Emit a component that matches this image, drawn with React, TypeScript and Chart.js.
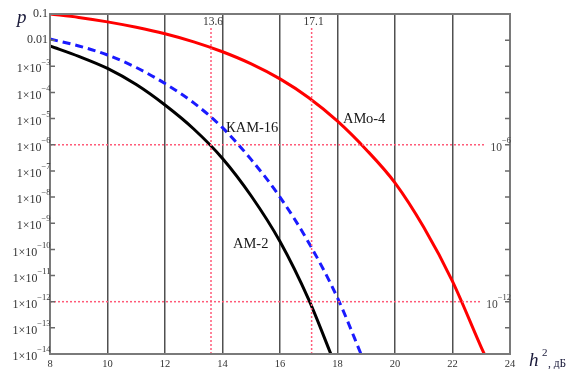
import React, { useEffect, useRef } from "react";
import { Chart, registerables } from "chart.js";

Chart.register(...registerables);

// АМо-4 (red)
const amo4H = [8, 9, 10, 11, 12, 13, 14, 15, 16, 17, 18, 19, 20, 21, 22, 23, 23.2];
const amo4P = [0.1, 0.074, 0.05, 0.031, 0.0175, 0.0086, 0.0036, 0.00124, 3.3e-4, 6.3e-5, 8e-6, 6.5e-7, 3.5e-8, 7e-10, 6e-12, 1.8e-14, 6e-15];
// КАМ-16 (blue dashed)
const kam16H = [8, 9, 10, 11, 12, 13, 14, 15, 16, 17, 18, 18.9];
const kam16P = [1.1e-2, 6e-3, 2.7e-3, 9e-4, 2.2e-4, 4e-5, 4.5e-6, 2.7e-7, 1e-8, 1.8e-10, 1.4e-12, 6e-15];
// АМ-2 (black)
const am2H = [8, 9, 10, 11, 12, 13, 14, 15, 16, 17, 17.85];
const am2P = [6e-3, 2.4e-3, 8.3e-4, 2.0e-4, 3.3e-5, 4.0e-6, 3e-7, 1.1e-8, 2e-10, 1.2e-12, 6e-15];

// reference (dotted) lines
const refH = [13.6, 17.1];
const refHLabels = ["13.6", "17.1"];
const refHTop = 0.03;
const refP = [1e-6, 1e-12];
const refPExp = ["−6", "−12"];
const refPEnd = [23.1, 23.0];

// axes
const xMin = 8;
const xMax = 24;
const xStep = 2;
const yMin = 1e-14;
const yMax = 0.1;
const yExps = [-1, -2, -3, -4, -5, -6, -7, -8, -9, -10, -11, -12, -13, -14];

const SERIF = "'Liberation Serif', 'Times New Roman', serif";

export default function App() {
  const ref = useRef<HTMLCanvasElement>(null);

  useEffect(() => {
    document.body.style.margin = "0";
    const canvas = ref.current!;
    const pts = (xs: number[], ys: number[]) => xs.map((x, i) => ({ x, y: ys[i] }));
    const dotted = {
      borderColor: "#ff5a78",
      borderWidth: 1.5,
      borderDash: [2, 2],
      pointRadius: 0,
      fill: false,
      tension: 0,
    };

    const datasets: any[] = [
      ...refH.map((h) => ({ ...dotted, data: [{ x: h, y: yMin }, { x: h, y: refHTop }] })),
      ...refP.map((p, i) => ({ ...dotted, data: [{ x: xMin, y: p }, { x: refPEnd[i], y: p }] })),
      {
        data: pts(am2H, am2P),
        borderColor: "#000000",
        borderWidth: 3,
        pointRadius: 0,
        cubicInterpolationMode: "monotone",
      },
      {
        data: pts(kam16H, kam16P),
        borderColor: "#1a1aff",
        borderWidth: 3,
        borderDash: [8, 5],
        pointRadius: 0,
        cubicInterpolationMode: "monotone",
      },
      {
        data: pts(amo4H, amo4P),
        borderColor: "#ff0000",
        borderWidth: 3,
        pointRadius: 0,
        cubicInterpolationMode: "monotone",
      },
    ];

    const drawPow = (
      ctx: CanvasRenderingContext2D,
      xRight: number,
      y: number,
      base: string,
      exp: string,
      baseSize: number,
      supSize: number,
      color: string
    ) => {
      ctx.fillStyle = color;
      ctx.textBaseline = "middle";
      ctx.textAlign = "left";
      ctx.font = `${supSize}px ${SERIF}`;
      const sw = ctx.measureText(exp).width;
      ctx.font = `${baseSize}px ${SERIF}`;
      const bw = ctx.measureText(base).width;
      ctx.fillText(base, xRight - sw - bw, y + 3);
      ctx.font = `${supSize}px ${SERIF}`;
      ctx.fillText(exp, xRight - sw, y - 4);
    };

    const overlay = {
      id: "overlay",
      afterDraw(chart: any) {
        const ctx: CanvasRenderingContext2D = chart.ctx;
        const { left, right, top, bottom } = chart.chartArea;
        const xs = chart.scales.x;
        const ys = chart.scales.y;
        ctx.save();
        // frame
        ctx.strokeStyle = "#7a7a7a";
        ctx.lineWidth = 2;
        ctx.strokeRect(left, top, right - left, bottom - top);
        // y ticks + labels
        ctx.lineWidth = 1.5;
        yExps.forEach((e) => {
          const v = Math.pow(10, e);
          const py = ys.getPixelForValue(v);
          ctx.strokeStyle = "#6a6a6a";
          if (e !== -1 && e !== -14) {
            ctx.beginPath();
            ctx.moveTo(left, py);
            ctx.lineTo(left + 5, py);
            ctx.moveTo(right, py);
            ctx.lineTo(right - 5, py);
            ctx.stroke();
          }
          if (e === -1 || e === -2) {
            ctx.fillStyle = "#333";
            ctx.font = `12px ${SERIF}`;
            ctx.textAlign = "right";
            ctx.textBaseline = "middle";
            ctx.fillText(e === -1 ? "0.1" : "0.01", left - 2, py);
          } else {
            drawPow(ctx, left + 0.5, py, "1×10", "−" + String(-e), 12, 8.5, "#333");
          }
        });
        // top labels of vertical dotted lines
        ctx.fillStyle = "#333";
        ctx.font = `11.5px ${SERIF}`;
        ctx.textAlign = "center";
        ctx.textBaseline = "middle";
        refH.forEach((h, i) => {
          ctx.fillText(refHLabels[i], xs.getPixelForValue(h) + 2, top + 8);
        });
        // right labels of horizontal dotted lines
        refP.forEach((p, i) => {
          drawPow(ctx, right + 1, ys.getPixelForValue(p), "10", refPExp[i], 11.5, 8.5, "#444");
        });
        // curve labels
        ctx.fillStyle = "#1a1a1a";
        ctx.font = `14.5px ${SERIF}`;
        ctx.textAlign = "left";
        ctx.textBaseline = "alphabetic";
        ctx.fillText("КАМ-16", 226, 132);
        ctx.fillText("АМо-4", 343, 123);
        ctx.fillText("АМ-2", 233, 248);
        // axis titles
        ctx.fillStyle = "#1a1a3a";
        ctx.font = `italic 19px ${SERIF}`;
        ctx.fillText("p", 17, 23);
        ctx.font = `italic 19px ${SERIF}`;
        ctx.fillText("h", 529, 366);
        ctx.font = `11px ${SERIF}`;
        ctx.fillText("2", 542, 356);
        ctx.font = `11.5px ${SERIF}`;
        ctx.fillText(", дБ", 548, 367);
        ctx.restore();
      },
    };

    const chart = new Chart(canvas, {
      type: "line",
      data: { datasets },
      options: {
        animation: false,
        responsive: false,
        maintainAspectRatio: false,
        layout: { padding: { top: 14, right: 67, left: 0, bottom: 0 } },
        plugins: { legend: { display: false }, tooltip: { enabled: false } },
        scales: {
          x: {
            type: "linear",
            min: xMin,
            max: xMax,
            afterFit: (s: any) => {
              s.height = 15;
            },
            border: { display: false },
            grid: { color: "#505050", lineWidth: 1.5, drawTicks: false },
            ticks: {
              stepSize: xStep,
              padding: 4,
              color: "#333",
              font: { family: SERIF, size: 10.5 },
              maxRotation: 0,
              autoSkip: false,
            },
          },
          y: {
            type: "logarithmic",
            min: yMin,
            max: yMax,
            afterFit: (s: any) => {
              s.width = 50;
            },
            border: { display: false },
            grid: { display: false, drawTicks: false },
            ticks: { display: false },
          },
        },
      },
      plugins: [overlay],
    });
    return () => chart.destroy();
  }, []);

  return <canvas ref={ref} width={577} height={369} style={{ display: "block", width: 577, height: 369 }} />;
}
